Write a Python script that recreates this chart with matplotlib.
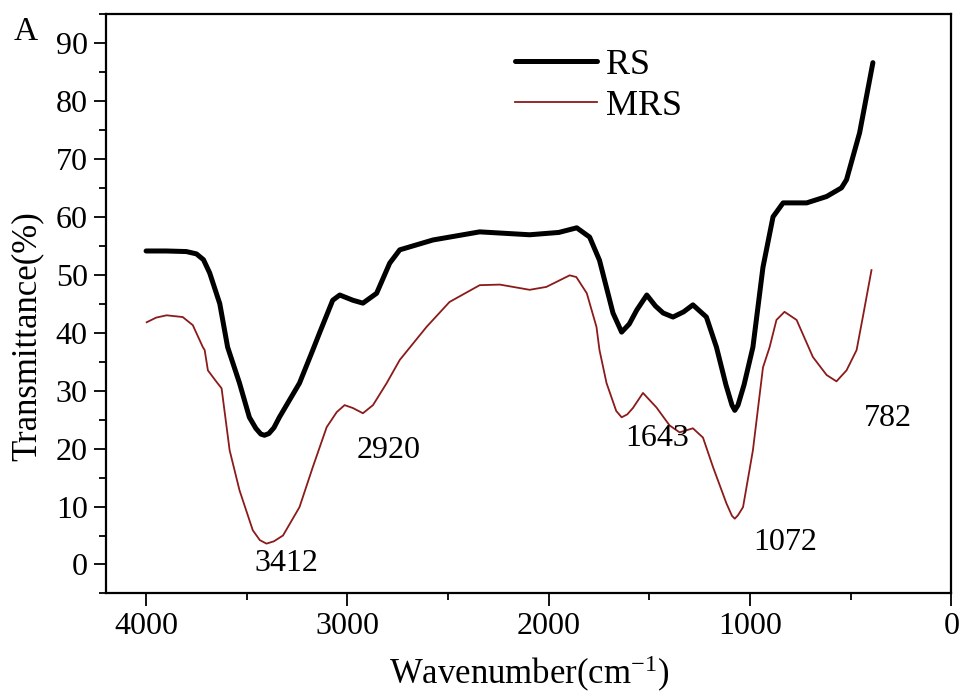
import matplotlib.pyplot as plt
from matplotlib.ticker import MultipleLocator

plt.rcParams["font.family"] = ["Liberation Serif", "DejaVu Serif"]
plt.rcParams["mathtext.fontset"] = "custom"
plt.rcParams["mathtext.rm"] = "Liberation Serif"
plt.rcParams["mathtext.it"] = "Liberation Serif:italic"

# RS spectrum (wavenumber cm-1, transmittance %)
rs_x = [4000, 3900, 3800, 3750, 3715, 3684, 3634, 3595, 3536, 3487, 3455, 3430,
        3412, 3390, 3365, 3338, 3238, 3172, 3138, 3073, 3038, 2973, 2923, 2855,
        2790, 2740, 2575, 2343, 2095, 1950, 1861, 1797, 1748, 1681, 1638, 1600,
        1563, 1513, 1470, 1432, 1383, 1330, 1284, 1217, 1167, 1120, 1090, 1076,
        1060, 1030, 986, 936, 886, 836, 719, 620, 546, 521, 456, 390]
rs_y = [54.1, 54.1, 54.0, 53.6, 52.6, 50.3, 45.0, 37.5, 31.3, 25.4, 23.5, 22.5,
        22.3, 22.6, 23.6, 25.4, 31.3, 37.0, 40.0, 45.6, 46.5, 45.6, 45.1, 46.8,
        52.0, 54.3, 56.0, 57.4, 56.9, 57.3, 58.1, 56.5, 52.5, 43.4, 40.1, 41.5,
        43.9, 46.5, 44.6, 43.4, 42.7, 43.6, 44.8, 42.7, 37.5, 31.0, 27.5, 26.6,
        27.5, 31.0, 37.5, 51.3, 60.0, 62.4, 62.4, 63.5, 65.0, 66.4, 74.5, 86.6]

# MRS spectrum
mrs_x = [3997, 3950, 3898, 3818, 3768, 3718, 3709, 3693, 3650, 3625, 3585, 3536,
         3470, 3435, 3402, 3365, 3320, 3238, 3172, 3103, 3053, 3014, 2973, 2923,
         2873, 2805, 2740, 2607, 2493, 2343, 2243, 2095, 2012, 1896, 1863, 1811,
         1763, 1748, 1713, 1665, 1638, 1610, 1582, 1532, 1465, 1400, 1350, 1284,
         1234, 1184, 1117, 1090, 1076, 1060, 1035, 986, 936, 903, 869, 829, 769,
         688, 620, 571, 521, 471, 440, 397]
mrs_y = [41.8, 42.6, 43.0, 42.7, 41.3, 37.5, 37.0, 33.5, 31.5, 30.4, 19.7, 12.8,
         5.9, 4.2, 3.6, 4.0, 5.0, 9.9, 16.8, 23.7, 26.3, 27.5, 27.0, 26.1,
         27.5, 31.3, 35.3, 41.0, 45.3, 48.2, 48.3, 47.4, 47.9, 49.9, 49.6, 46.8,
         41.0, 37.0, 31.3, 26.5, 25.4, 25.9, 27.0, 29.6, 27.1, 24.0, 22.8, 23.5,
         21.9, 16.8, 10.5, 8.4, 7.9, 8.5, 9.9, 19.7, 34.0, 37.5, 42.2, 43.6, 42.2,
         35.8, 32.7, 31.6, 33.5, 37.0, 42.7, 50.8]

peak_labels = ["3412", "2920", "1643", "1072", "782"]
peak_label_x = [3302, 2795, 1463, 824, 316]
peak_label_y = [0.2, 19.7, 21.8, 3.8, 25.2]

fig = plt.figure(figsize=(9.62, 6.99), dpi=100)
ax = fig.add_axes([0.110, 0.151, 0.879, 0.829])

ax.plot(rs_x, rs_y, color="black", linewidth=3.6, label="RS",
        solid_joinstyle="round", solid_capstyle="round")
ax.plot(mrs_x, mrs_y, color="#8b1a1a", linewidth=1.3, label="MRS")

for txt, tx, ty in zip(peak_labels, peak_label_x, peak_label_y):
    ax.text(tx, ty, txt, fontsize=23, ha="center", va="center")

ax.set_xlim(4200, 0)
ax.set_ylim(-5, 95)
ax.xaxis.set_major_locator(MultipleLocator(1000))
ax.xaxis.set_minor_locator(MultipleLocator(500))
ax.yaxis.set_minor_locator(MultipleLocator(5))
ax.set_yticks(range(0, 100, 10))
ax.tick_params(which="major", direction="out", length=9, width=1.3,
               labelsize=23, pad=4)
ax.tick_params(which="minor", direction="out", length=5, width=1.3)
for sp in ax.spines.values():
    sp.set_linewidth(1.6)

ax.set_xlabel("Wavenumber(cm$^{-1}$)", fontsize=25)
ax.set_ylabel("Transmittance(%)", fontsize=25)
ax.xaxis.set_label_coords(0.5, -0.105)
ax.yaxis.set_label_coords(-0.074, 0.444)

ax.legend(loc="upper left", bbox_to_anchor=(0.4836, 0.94), frameon=False,
          fontsize=26, handlelength=2.28, handletextpad=0.25, labelspacing=0.2,
          borderpad=0, borderaxespad=0)

fig.text(0.027, 0.955, "A", fontsize=24, ha="center", va="center")

fig.savefig("out.png", dpi=100)
